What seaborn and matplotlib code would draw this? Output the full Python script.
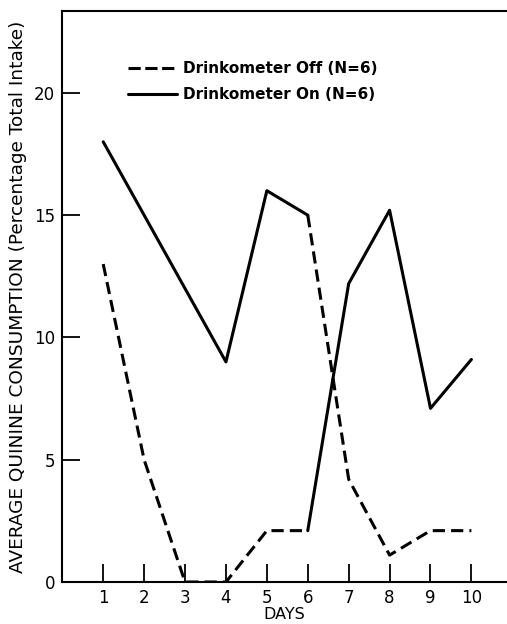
import pandas as pd
import seaborn as sns
import matplotlib.pyplot as plt
from matplotlib.lines import Line2D

days = [1, 2, 3, 4, 5, 6, 7, 8, 9, 10]
# group that started with the drinkometer on, switched off after day 6
group_a = [18, 15, 12, 9, 16, 15, 4.2, 1.1, 2.1, 2.1]
# group that started with the drinkometer off, switched on after day 6
group_b = [13, 5, 0, 0, 2.1, 2.1, 12.2, 15.2, 7.1, 9.1]
switch_day = 6
legend_labels = ["Drinkometer Off (N=6)", "Drinkometer On (N=6)"]
y_ticks = [0, 5, 10, 15, 20]

rows = []
for group, values, first in (("A", group_a, "On"), ("B", group_b, "Off")):
    second = "Off" if first == "On" else "On"
    for day, value in zip(days, values):
        if day <= switch_day:
            rows.append({"day": day, "value": value, "segment": group + "1", "condition": first})
        if day >= switch_day:
            rows.append({"day": day, "value": value, "segment": group + "2", "condition": second})
df = pd.DataFrame(rows)

sns.set_style("white")
plt.rcParams["font.family"] = ["DejaVu Sans"]
plt.rcParams["text.color"] = "black"
plt.rcParams["axes.labelcolor"] = "black"
plt.rcParams["xtick.color"] = "black"
plt.rcParams["ytick.color"] = "black"

fig = plt.figure(figsize=(5.07, 6.24), dpi=100)
ax = fig.add_axes([62.3 / 507, 42 / 624, 1 - 62.3 / 507, (582 - 10.7) / 624])

dash = (0, (4, 2))
for segment, seg_df in df.groupby("segment"):
    condition = seg_df["condition"].iloc[0]
    sns.lineplot(data=seg_df, x="day", y="value", ax=ax, color="black",
                 linewidth=2.2, linestyle=dash if condition == "Off" else "-",
                 legend=False)

ax.set_xlim(0, 10.87)
ax.set_ylim(0, 23.36)
ax.set_xticks(days)
ax.set_yticks(y_ticks)
ax.tick_params(direction="in", length=13, width=1.3, color="black",
               labelsize=12, pad=5, bottom=True, left=True)
ax.spines["right"].set_visible(False)
for side in ["left", "top", "bottom"]:
    ax.spines[side].set_color("black")
    ax.spines[side].set_linewidth(1.5)

ax.set_xlabel("DAYS", fontsize=11.5, labelpad=0)
ax.set_ylabel("AVERAGE QUININE CONSUMPTION (Percentage Total Intake)",
              fontsize=13.3, labelpad=5)

handles = [Line2D([], [], color="black", linewidth=2.2, linestyle=(0, (4, 1.5))),
           Line2D([], [], color="black", linewidth=2.2, linestyle="-")]
ax.legend(handles, legend_labels, loc="upper left", frameon=False,
          bbox_to_anchor=(128 / 507, 1 - 61 / 624), bbox_transform=fig.transFigure,
          borderpad=0, borderaxespad=0, handlelength=3.2, handletextpad=0.4,
          labelspacing=0.75, prop={"size": 11, "weight": "bold"})

plt.savefig("out.png", dpi=100)
